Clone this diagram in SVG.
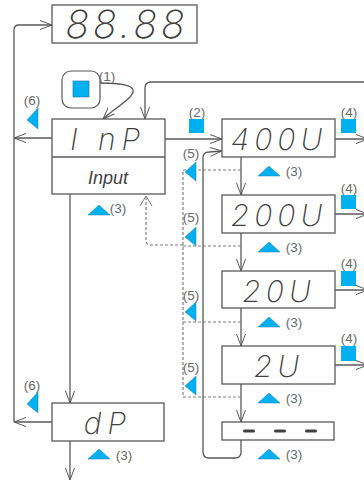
<svg xmlns="http://www.w3.org/2000/svg" width="364" height="482" viewBox="0 0 364 482">
<defs>
<marker id="ah" viewBox="0 0 12 10" refX="12" refY="5" markerWidth="12" markerHeight="10" markerUnits="userSpaceOnUse" orient="auto">
<path d="M0,0.5 L12,5 L0,9.5" fill="none" stroke="#595959" stroke-width="1"/>
</marker>
<style>
.box{fill:#fff;stroke:#595959;stroke-width:1.3}
.ln{fill:none;stroke:#595959;stroke-width:1.3}
.ar{fill:none;stroke:#595959;stroke-width:1.3;marker-end:url(#ah)}
.dash{fill:none;stroke:#7f7f7f;stroke-width:1.2;stroke-dasharray:3,2}
.seg{font-family:Inter,"Open Sans",sans-serif;font-style:italic;font-weight:200;fill:#404040;text-anchor:middle}
.lbl{font-family:"Liberation Sans",Arial,sans-serif;font-size:13.5px;fill:#6a6a6a;text-anchor:middle}
.blue{fill:#00b0f0}
.tri{fill:#00b0f0;stroke:#1a7fb0;stroke-width:0.5}
</style>
</defs>

<g id="connectors">
<path class="ar" d="M14,422 L14,30 Q14,25 19,25 L52,25"/>
<path class="ar" d="M52,138 L14,138"/>
<path class="ar" d="M52,422 L14,422"/>
<path class="ar" d="M100,83 C125,83 140,86 130,97 C122,105 110,112 103,119"/>
<path class="ar" d="M364,82 L151,82 Q145,82 145,88 L145,119"/>
<path class="ar" d="M165,139 L222,139"/>
<path class="ar" d="M241,440 L241,452 Q241,458 235,458 L209,458 Q203,458 203,452 L203,158 Q203,152 209,152 L222,151"/>
<path class="ar" d="M335,139 L368,139"/>
<path class="ar" d="M335,214 L368,214"/>
<path class="ar" d="M335,290 L368,290"/>
<path class="ar" d="M335,365 L368,365"/>
<path class="ar" d="M241,157 L241,195"/>
<path class="ar" d="M241,233 L241,271"/>
<path class="ar" d="M241,308 L241,346"/>
<path class="ar" d="M241,384 L241,422"/>
<path class="ar" d="M70,194 L70,403"/>
<path class="ar" d="M70,441 L70,480"/>
<path class="dash" d="M241,170 L183,170 L183,397 L241,397"/>
<path class="dash" d="M241,246 L183,246"/>
<path class="dash" d="M241,322 L183,322"/>
<path class="dash" d="M183,245 L151,245 Q146,245 146,240 L146,196"/>
<path d="M140,206 L146,196 L152,206" fill="none" stroke="#7f7f7f" stroke-width="1"/>
</g>

<g id="display">
<rect class="box" x="52" y="5" width="145" height="38"/>
<text class="seg" x="127" y="38" font-size="39" letter-spacing="4">88.88</text>
</g>

<g id="button">
<rect x="62" y="71" width="38" height="37" rx="9" fill="none" stroke="#595959" stroke-width="1.2"/>
<rect class="blue" x="73" y="81" width="16" height="16" stroke="#1a6f9a" stroke-width="0.6"/>
<text class="lbl" x="107" y="81">(1)</text>
</g>

<g id="inp">
<rect class="box" x="52" y="119" width="113" height="75"/>
<line class="ln" x1="52" y1="157" x2="165" y2="157"/>
<text class="seg" x="108" y="150" font-size="30" letter-spacing="6">I nP</text>
<text x="108" y="184" font-family="'Liberation Sans',Arial,sans-serif" font-style="italic" font-size="18" fill="#404040" text-anchor="middle">Input</text>
<path class="tri" d="M88,215 L99,205 L110,215 Z"/>
<text class="lbl" x="118" y="213">(3)</text>
</g>

<g id="key6a">
<text class="lbl" x="32" y="105">(6)</text>
<path class="tri" d="M38,108 L38,129 L27,120 Z"/>
</g>

<g id="key2">
<text class="lbl" x="197" y="117">(2)</text>
<rect class="blue" x="189" y="119" width="15" height="14"/>
</g>

<g id="v400">
<rect class="box" x="222" y="119" width="113" height="38"/>
<text class="seg" x="279" y="150" font-size="30" letter-spacing="5">400U</text>
<text class="lbl" x="349" y="117">(4)</text>
<rect class="blue" x="341" y="119" width="15" height="14"/>
<path class="tri" d="M258,176 L269,166 L280,176 Z"/>
<text class="lbl" x="294" y="176">(3)</text>
</g>

<g id="v200">
<rect class="box" x="222" y="195" width="113" height="38"/>
<text class="seg" x="279" y="226" font-size="30" letter-spacing="5">200U</text>
<text class="lbl" x="349" y="193">(4)</text>
<rect class="blue" x="341" y="195" width="15" height="14"/>
<path class="tri" d="M258,252 L269,242 L280,252 Z"/>
<text class="lbl" x="294" y="252">(3)</text>
</g>

<g id="v20">
<rect class="box" x="222" y="271" width="113" height="37"/>
<text class="seg" x="279" y="302" font-size="30" letter-spacing="5">20U</text>
<text class="lbl" x="349" y="268">(4)</text>
<rect class="blue" x="341" y="271" width="15" height="15"/>
<path class="tri" d="M258,327 L269,317 L280,327 Z"/>
<text class="lbl" x="294" y="327">(3)</text>
</g>

<g id="v2">
<rect class="box" x="222" y="346" width="113" height="38"/>
<text class="seg" x="279" y="377" font-size="30" letter-spacing="5">2U</text>
<text class="lbl" x="349" y="343">(4)</text>
<rect class="blue" x="341" y="346" width="15" height="15"/>
<path class="tri" d="M258,403 L269,393 L280,403 Z"/>
<text class="lbl" x="294" y="403">(3)</text>
</g>

<g id="vnone">
<rect class="box" x="222" y="422" width="112" height="18"/>
<rect x="243" y="429.5" width="12" height="3" rx="1.5" fill="#404040"/>
<rect x="274" y="429.5" width="12" height="3" rx="1.5" fill="#404040"/>
<rect x="305" y="429.5" width="12" height="3" rx="1.5" fill="#404040"/>
<path class="tri" d="M258,459 L269,449 L280,459 Z"/>
<text class="lbl" x="294" y="459">(3)</text>
</g>

<g id="keys5">
<text class="lbl" x="191" y="158">(5)</text>
<path class="tri" d="M196,162 L196,181 L185,172 Z"/>
<text class="lbl" x="191" y="222">(5)</text>
<path class="tri" d="M196,227 L196,246 L185,237 Z"/>
<text class="lbl" x="191" y="300">(5)</text>
<path class="tri" d="M196,302 L196,321 L185,312 Z"/>
<text class="lbl" x="191" y="372">(5)</text>
<path class="tri" d="M196,376 L196,395 L185,386 Z"/>
</g>

<g id="dp">
<rect class="box" x="52" y="403" width="112" height="38"/>
<text class="seg" x="108" y="434" font-size="30" letter-spacing="6">dP</text>
<text class="lbl" x="32" y="390">(6)</text>
<path class="tri" d="M38,392 L38,413 L27,404 Z"/>
<path class="tri" d="M88,459 L99,449 L110,459 Z"/>
<text class="lbl" x="124" y="460">(3)</text>
</g>
</svg>
